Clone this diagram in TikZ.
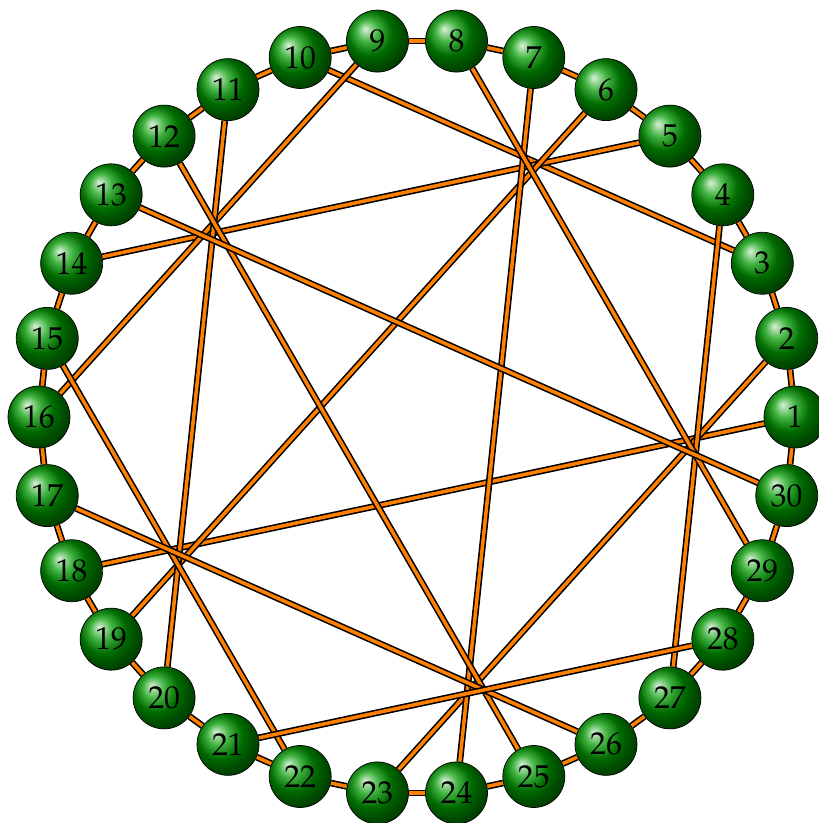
\documentclass[tikz,border=0pt]{standalone}
\usepackage[T1]{fontenc}
\usepackage{mathpazo}
\usepackage{tikz}
\usetikzlibrary{backgrounds}

\begin{document}
\begin{tikzpicture}[
  font=\fontsize{18}{20}\selectfont,
  ball/.style={circle, draw=black, thin, ball color=green!60!black, minimum size=1.24cm, inner sep=0pt},
  wire/.style={double=orange, double distance=2pt, line width=0.9pt}
]
  \useasboundingbox (-8.34,-8.12) rectangle (8.02,8.34);
  \def\R{7.56}
  \foreach \i in {1,...,30} {
    \node[ball] (n\i) at ({(\i-1)*12}:\R) {\i};
  }
  \begin{scope}[on background layer]
    % ring
    \foreach \i in {1,...,30} {
      \pgfmathtruncatemacro\j{mod(\i,30)+1}
      \draw[wire] (n\i) -- (n\j);
    }
    % chords
    \foreach \a/\b in {1/18, 2/23, 3/10, 4/27, 5/14, 6/19, 7/24, 8/29,
                       9/16, 11/20, 12/25, 13/30, 15/22, 17/26, 21/28} {
      \draw[wire] (n\a) -- (n\b);
    }
  \end{scope}
\end{tikzpicture}
\end{document}
